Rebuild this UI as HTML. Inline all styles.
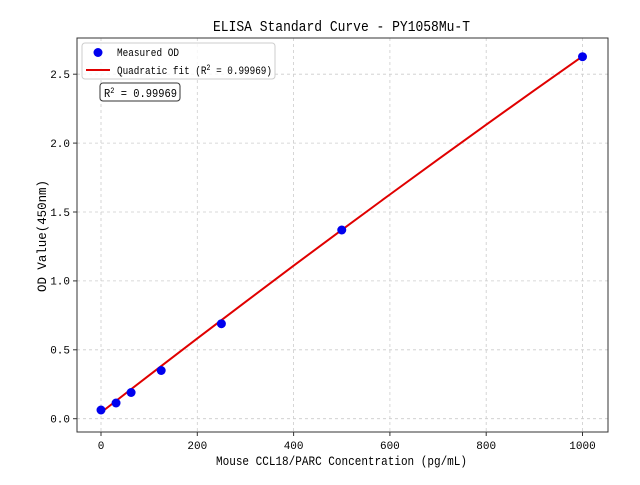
<!DOCTYPE html>
<html><head><meta charset="utf-8"><style>
body{margin:0;background:#fff}
text{font-family:"Liberation Mono","WenQuanYi Zen Hei",monospace;fill:#000}
</style></head><body>
<svg width="640" height="480" viewBox="0 0 640 480" xmlns="http://www.w3.org/2000/svg">
<rect width="640" height="480" fill="#fff"/>
<g stroke="#ccc" stroke-width="0.8" stroke-dasharray="3,3">
<line x1="101" y1="38" x2="101" y2="432"/>
<line x1="197.3" y1="38" x2="197.3" y2="432"/>
<line x1="293.6" y1="38" x2="293.6" y2="432"/>
<line x1="389.9" y1="38" x2="389.9" y2="432"/>
<line x1="486.2" y1="38" x2="486.2" y2="432"/>
<line x1="582.5" y1="38" x2="582.5" y2="432"/>
<line x1="77" y1="418.7" x2="608" y2="418.7"/>
<line x1="77" y1="349.8" x2="608" y2="349.8"/>
<line x1="77" y1="280.9" x2="608" y2="280.9"/>
<line x1="77" y1="212" x2="608" y2="212"/>
<line x1="77" y1="143.1" x2="608" y2="143.1"/>
<line x1="77" y1="74.2" x2="608" y2="74.2"/>
</g>
<polyline fill="none" stroke="#e00000" stroke-width="2" points="101,412.5 149.15,375.3 197.3,338.4 245.45,301.9 293.6,265.7 341.75,229.9 389.9,194.5 438.05,159.4 486.2,124.7 534.35,90.3 582.5,56.3"/>
<g fill="#0000ee">
<circle cx="101" cy="410" r="4.5"/><circle cx="116.05" cy="403" r="4.5"/><circle cx="131.1" cy="392.5" r="4.5"/><circle cx="161.2" cy="370.5" r="4.5"/><circle cx="221.4" cy="323.7" r="4.5"/><circle cx="341.75" cy="230" r="4.5"/><circle cx="582.5" cy="56.7" r="4.5"/>
</g>
<rect x="77" y="38" width="531" height="394" fill="none" stroke="#333" stroke-width="1"/>
<g stroke="#333" stroke-width="1">
<line x1="101" y1="432" x2="101" y2="436"/><line x1="197.3" y1="432" x2="197.3" y2="436"/><line x1="293.6" y1="432" x2="293.6" y2="436"/><line x1="389.9" y1="432" x2="389.9" y2="436"/><line x1="486.2" y1="432" x2="486.2" y2="436"/><line x1="582.5" y1="432" x2="582.5" y2="436"/>
<line x1="73" y1="418.7" x2="77" y2="418.7"/><line x1="73" y1="349.8" x2="77" y2="349.8"/><line x1="73" y1="280.9" x2="77" y2="280.9"/><line x1="73" y1="212" x2="77" y2="212"/><line x1="73" y1="143.1" x2="77" y2="143.1"/><line x1="73" y1="74.2" x2="77" y2="74.2"/>
</g>
<g font-size="11" text-anchor="middle">
<text x="101" y="449">0</text><text x="197.3" y="449">200</text><text x="293.6" y="449">400</text><text x="389.9" y="449">600</text><text x="486.2" y="449">800</text><text x="582.5" y="449">1000</text>
</g>
<g font-size="11" text-anchor="end">
<text x="70" y="422.5">0.0</text><text x="70" y="353.6">0.5</text><text x="70" y="284.7">1.0</text><text x="70" y="215.8">1.5</text><text x="70" y="146.9">2.0</text><text x="70" y="78">2.5</text>
</g>
<text x="216" y="465" font-size="13" textLength="251" lengthAdjust="spacingAndGlyphs">Mouse CCL18/PARC Concentration (pg/mL)</text>
<text transform="translate(46,292) rotate(-90)" font-size="13" textLength="112" lengthAdjust="spacingAndGlyphs">OD Value(450nm)</text>
<text x="213" y="31" font-size="15" textLength="257" lengthAdjust="spacingAndGlyphs">ELISA Standard Curve - PY1058Mu-T</text>
<rect x="82" y="43" width="193" height="36" rx="3" fill="#fff" fill-opacity="0.8" stroke="#ccc"/>
<circle cx="98" cy="52.5" r="4.5" fill="#0000ee"/>
<text x="117" y="56" font-size="11" textLength="62" lengthAdjust="spacingAndGlyphs">Measured OD</text>
<line x1="86" y1="70" x2="110" y2="70" stroke="#e00000" stroke-width="2"/>
<text x="117" y="74" font-size="11" textLength="155" lengthAdjust="spacingAndGlyphs">Quadratic fit (R<tspan dy="-4" font-size="8">2</tspan><tspan dy="4"> = 0.99969)</tspan></text>
<rect x="100" y="83" width="80" height="18" rx="3" fill="#fff" stroke="#333"/>
<text x="104" y="97" font-size="12" textLength="73" lengthAdjust="spacingAndGlyphs">R<tspan dy="-4" font-size="8">2</tspan><tspan dy="4"> = 0.99969</tspan></text>
</svg>
</body></html>
